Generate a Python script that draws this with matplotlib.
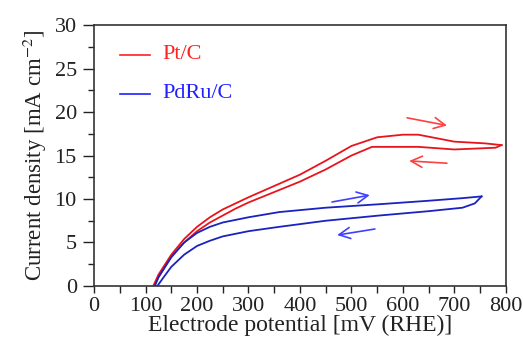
import matplotlib
matplotlib.use("Agg")
import matplotlib.pyplot as plt
from matplotlib.ticker import MultipleLocator

plt.rcParams['font.family'] = ['Liberation Serif', 'DejaVu Serif']
plt.rcParams['mathtext.fontset'] = 'stix'

# Pt/C forward and backward scans
pt_fwd_E = [115, 125, 150, 175, 200, 225, 250, 275, 300, 350, 400, 450, 500, 550, 600, 630, 700, 760, 792]
pt_fwd_j = [0, 1.3, 3.6, 5.4, 6.8, 7.9, 8.8, 9.5, 10.2, 11.5, 12.8, 14.4, 16.1, 17.1, 17.4, 17.4, 16.6, 16.4, 16.2]
pt_bwd_E = [792, 780, 700, 630, 600, 540, 500, 450, 400, 350, 300, 275, 250, 225, 200, 175, 150, 125, 117]
pt_bwd_j = [16.2, 15.9, 15.7, 16.0, 16.0, 16.0, 15.0, 13.4, 12.0, 10.8, 9.6, 8.9, 8.1, 7.3, 6.3, 5.0, 3.4, 1.0, 0]

# PdRu/C forward and backward scans
pd_fwd_E = [118, 125, 150, 175, 200, 225, 250, 300, 360, 450, 554, 650, 716, 753]
pd_fwd_j = [0, 1.0, 3.3, 5.0, 6.1, 6.8, 7.3, 7.9, 8.5, 9.0, 9.4, 9.8, 10.1, 10.3]
pd_bwd_E = [753, 740, 716, 650, 554, 450, 360, 300, 250, 225, 200, 175, 150, 135, 123]
pd_bwd_j = [10.3, 9.5, 9.0, 8.6, 8.1, 7.5, 6.8, 6.3, 5.7, 5.2, 4.6, 3.6, 2.2, 1.0, 0]

series_labels = ['Pt/C', 'PdRu/C']

fig = plt.figure(figsize=(5.23, 3.40), dpi=100)
ax = fig.add_axes([0.180, 0.159, 0.787, 0.767])

red = '#e8141c'
blue = '#1a22c0'
ax.plot(pt_fwd_E, pt_fwd_j, color=red, lw=1.3)
ax.plot(pt_bwd_E, pt_bwd_j, color=red, lw=1.3)
ax.plot(pd_fwd_E, pd_fwd_j, color=blue, lw=1.3)
ax.plot(pd_bwd_E, pd_bwd_j, color=blue, lw=1.3)

# Legend drawn manually
ax.plot([50, 108], [26.6, 26.6], color='#ff2020', lw=1.2)
ax.text(132, 26.6, series_labels[0], color='#ff2020', fontsize=16, va='center')
ax.plot([50, 108], [22.1, 22.1], color='#2020ff', lw=1.2)
ax.text(132, 22.1, series_labels[1], color='#2020ff', fontsize=16, va='center')

# Direction arrows
arrow_kw = dict(arrowstyle='->', lw=1.2, mutation_scale=20)
ax.annotate('', xy=(691, 18.4), xytext=(603, 19.4),
            arrowprops=dict(color='#ff4040', **arrow_kw))
ax.annotate('', xy=(607, 14.4), xytext=(691, 14.1),
            arrowprops=dict(color='#ff4040', **arrow_kw))
ax.annotate('', xy=(541, 10.5), xytext=(457, 9.6),
            arrowprops=dict(color='#4040ff', **arrow_kw))
ax.annotate('', xy=(467, 5.8), xytext=(551, 6.6),
            arrowprops=dict(color='#4040ff', **arrow_kw))

ax.set_xlim(0, 800)
ax.set_ylim(0, 30)
ax.xaxis.set_major_locator(MultipleLocator(100))
ax.xaxis.set_minor_locator(MultipleLocator(50))
ax.yaxis.set_major_locator(MultipleLocator(5))
ax.yaxis.set_minor_locator(MultipleLocator(2.5))
ax.tick_params(which='both', direction='out', top=False, right=False,
               labelsize=16, colors='#222222', width=1.0)
ax.tick_params(axis='x', which='both', length=5, pad=3)
ax.tick_params(axis='y', which='major', length=8, pad=4.5)
ax.tick_params(axis='y', which='minor', length=4.3)
for s in ax.spines.values():
    s.set_color('#333333')
    s.set_linewidth(1.2)

ax.set_xlabel('Electrode potential [mV (RHE)]', fontsize=17, labelpad=-1, color='#222222')
ax.set_ylabel('Current density [mA cm$^{-2}$]', fontsize=16.5, labelpad=4, color='#222222')

fig.savefig('out.png', dpi=100)
